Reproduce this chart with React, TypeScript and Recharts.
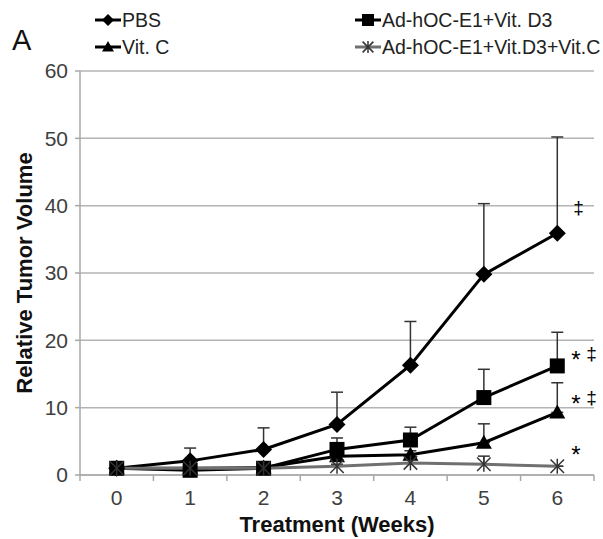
import React from 'react';
import { LineChart, Line, XAxis, YAxis, CartesianGrid, ErrorBar, Legend } from 'recharts';

// ---- data ----
const weeks = [0, 1, 2, 3, 4, 5, 6];
const weekLabels = ['0', '1', '2', '3', '4', '5', '6'];
const pbs = [1, 2.1, 3.8, 7.5, 16.3, 29.8, 35.9];
const pbsErr = [0, 1.9, 3.2, 4.8, 6.5, 10.5, 14.3];
const vitC = [1, 1.0, 1.1, 2.8, 3.0, 4.8, 9.3];
const vitCErr = [0, 0, 0, 0.4, 0.6, 2.8, 4.4];
const d3 = [1, 0.7, 1.0, 3.8, 5.2, 11.5, 16.2];
const d3Err = [0, 0.3, 0.3, 1.7, 1.9, 4.2, 5.0];
const d3c = [1, 1.0, 1.0, 1.3, 1.8, 1.6, 1.3];
const d3cErr = [0, 0, 0, 0.3, 0.9, 1.2, 0];
const seriesNames = ['PBS', 'Vit. C', 'Ad-hOC-E1+Vit. D3', 'Ad-hOC-E1+Vit.D3+Vit.C'];
const finalNotes = [['', '‡'], ['*', '‡'], ['*', '‡'], ['*', '']];
const yTicks = [0, 10, 20, 30, 40, 50, 60];
const panelLabel = 'A';
const xTitle = 'Treatment (Weeks)';
const yTitle = 'Relative Tumor Volume';

const data = weeks.map((w, i) => ({
  week: w,
  pbs: pbs[i],
  pbsErr: [0, pbsErr[i]],
  vitC: vitC[i],
  vitCErr: [0, vitCErr[i]],
  d3: d3[i],
  d3Err: [0, d3Err[i]],
  d3c: d3c[i],
  d3cErr: [0, d3cErr[i]],
}));

const xTicks = [weeks[0] - 0.5, ...weeks.flatMap((w) => [w, w + 0.5])];

const GRID = '#b4b4b4';
const AXIS = '#a8a8a8';
const TXT = '#404040';
const FONT = '"Liberation Sans", Arial, sans-serif';
const STAR_LINE = '#707070';

type MP = { cx: number; cy: number; s?: number };
const Diamond = ({ cx, cy, s = 8.5 }: MP) => (
  <polygon points={`${cx},${cy - s} ${cx + s},${cy} ${cx},${cy + s} ${cx - s},${cy}`} fill="#000" />
);
const Square = ({ cx, cy, s = 7.5 }: MP) => (
  <rect x={cx - s} y={cy - s} width={2 * s} height={2 * s} fill="#000" />
);
const Triangle = ({ cx, cy, s = 8 }: MP) => (
  <polygon points={`${cx},${cy - s} ${cx + s},${cy + s * 0.75} ${cx - s},${cy + s * 0.75}`} fill="#000" />
);
const Star = ({ cx, cy, s = 7.5 }: MP) => (
  <g stroke="#333" strokeWidth={1.5}>
    <line x1={cx} y1={cy - s} x2={cx} y2={cy + s} />
    <line x1={cx - s * 0.9} y1={cy - s * 0.9} x2={cx + s * 0.9} y2={cy + s * 0.9} />
    <line x1={cx - s * 0.9} y1={cy + s * 0.9} x2={cx + s * 0.9} y2={cy - s * 0.9} />
  </g>
);

const markers = [Diamond, Triangle, Square, Star];
const lineColors = ['#000', '#000', '#000', STAR_LINE];
const keys = ['pbs', 'vitC', 'd3', 'd3c'];
const noteOffsets = [
  { dx: 1, dy: -24 },
  { dx: 14, dy: -13 },
  { dx: 14, dy: -11 },
  { dx: 14, dy: -16 },
];

const makeDot = (si: number) => (props: any) => {
  const M = markers[si];
  if (props.cx == null || props.cy == null) return <g key={`d${si}-${props.index}`} />;
  return (
    <g key={`d${si}-${props.index}`}>
      <M cx={props.cx} cy={props.cy} />
    </g>
  );
};

const makeNote = (si: number) => (props: any) => {
  const last = weeks.length - 1;
  if (props.index !== last) return <g key={`n${si}-${props.index}`} />;
  const o = noteOffsets[si];
  const [star, dag] = finalNotes[si];
  const bx = props.x + o.dx;
  const by = props.y + o.dy;
  return (
    <g key={`n${si}-${props.index}`} fill="#000" fontFamily={FONT}>
      {star ? (
        <text x={bx} y={by + 13} fontSize={24}>
          {star}
        </text>
      ) : null}
      {dag ? (
        <text x={bx + 15} y={by + 5} fontSize={19}>
          {dag}
        </text>
      ) : null}
    </g>
  );
};

const XTick = (props: any) => {
  const { x, y, payload } = props;
  const v = payload.value;
  if (Number.isInteger(v)) {
    return (
      <text x={x} y={y + 30} textAnchor="middle" fontSize={21} fill={TXT} fontFamily={FONT}>
        {weekLabels[weeks.indexOf(v)]}
      </text>
    );
  }
  return <line x1={x} x2={x} y1={y} y2={y + 6} stroke={AXIS} strokeWidth={1.5} />;
};

const XTitle = (props: any) => {
  const vb = props.viewBox;
  return (
    <text x={vb.x + vb.width / 2} y={vb.y + 57} textAnchor="middle" fontSize={22} fontWeight="bold" fill="#111" fontFamily={FONT}>
      {xTitle}
    </text>
  );
};

const YTitle = (props: any) => {
  const vb = props.viewBox;
  const cx = 32;
  const cy = vb.y + vb.height / 2;
  return (
    <text x={cx} y={cy} transform={`rotate(-90 ${cx} ${cy})`} textAnchor="middle" fontSize={22} fontWeight="bold" fill="#111" fontFamily={FONT}>
      {yTitle}
    </text>
  );
};

const legendCols = [95, 355];
const legendRows = [20, 47];
const legendPlace = [
  { c: 0, r: 0 },
  { c: 0, r: 1 },
  { c: 1, r: 0 },
  { c: 1, r: 1 },
];

const LegendContent = () => (
  <svg width={603} height={62} style={{ display: 'block' }}>
    <text x={12} y={50} fontSize={29} fill="#111" fontFamily={FONT}>
      {panelLabel}
    </text>
    {seriesNames.map((name, si) => {
      const p = legendPlace[si];
      const x0 = legendCols[p.c];
      const y = legendRows[p.r];
      const M = markers[si];
      return (
        <g key={name}>
          <line x1={x0} x2={x0 + 26} y1={y} y2={y} stroke={lineColors[si]} strokeWidth={3} />
          <M cx={x0 + 13} cy={y} s={6} />
          <text x={x0 + 27} y={y + 7} fontSize={19.5} fill="#222" fontFamily={FONT}>
            {name}
          </text>
        </g>
      );
    })}
  </svg>
);

export default function App() {
  return (
    <div style={{ position: 'absolute', left: 0, top: 0, width: 603, height: 539, background: '#fff', fontFamily: FONT }}>
      <LineChart width={603} height={539} data={data} margin={{ top: 71, right: 9, bottom: 0, left: 0 }}>
        <CartesianGrid vertical={false} stroke={GRID} strokeWidth={1.5} />
        <XAxis
          dataKey="week"
          type="number"
          domain={[-0.5, 6.5]}
          ticks={xTicks}
          interval={0}
          tickLine={false}
          tickSize={0}
          tickMargin={0}
          tick={<XTick />}
          axisLine={{ stroke: AXIS, strokeWidth: 1.5 }}
          height={64}
          label={<XTitle />}
        />
        <YAxis
          type="number"
          domain={[0, 60]}
          ticks={yTicks}
          interval={0}
          width={80}
          tickSize={5}
          tickMargin={7}
          tickLine={{ stroke: AXIS, strokeWidth: 1.5 }}
          axisLine={{ stroke: AXIS, strokeWidth: 1.5 }}
          tick={{ fontSize: 21, fill: TXT, fontFamily: FONT }}
          label={<YTitle />}
        />
        <Legend
          layout="vertical"
          align="center"
          verticalAlign="middle"
          wrapperStyle={{ position: 'absolute', left: 0, top: 0, width: 603, height: 62 }}
          content={<LegendContent />}
        />
        {keys.map((k, si) => (
          <Line
            key={k}
            type="linear"
            dataKey={k}
            name={seriesNames[si]}
            stroke={lineColors[si]}
            strokeWidth={3}
            dot={makeDot(si)}
            activeDot={false}
            isAnimationActive={false}
            label={makeNote(si)}
          >
            <ErrorBar dataKey={`${k}Err`} direction="y" width={6} stroke="#333" strokeWidth={1.5} />
          </Line>
        ))}
      </LineChart>
    </div>
  );
}
